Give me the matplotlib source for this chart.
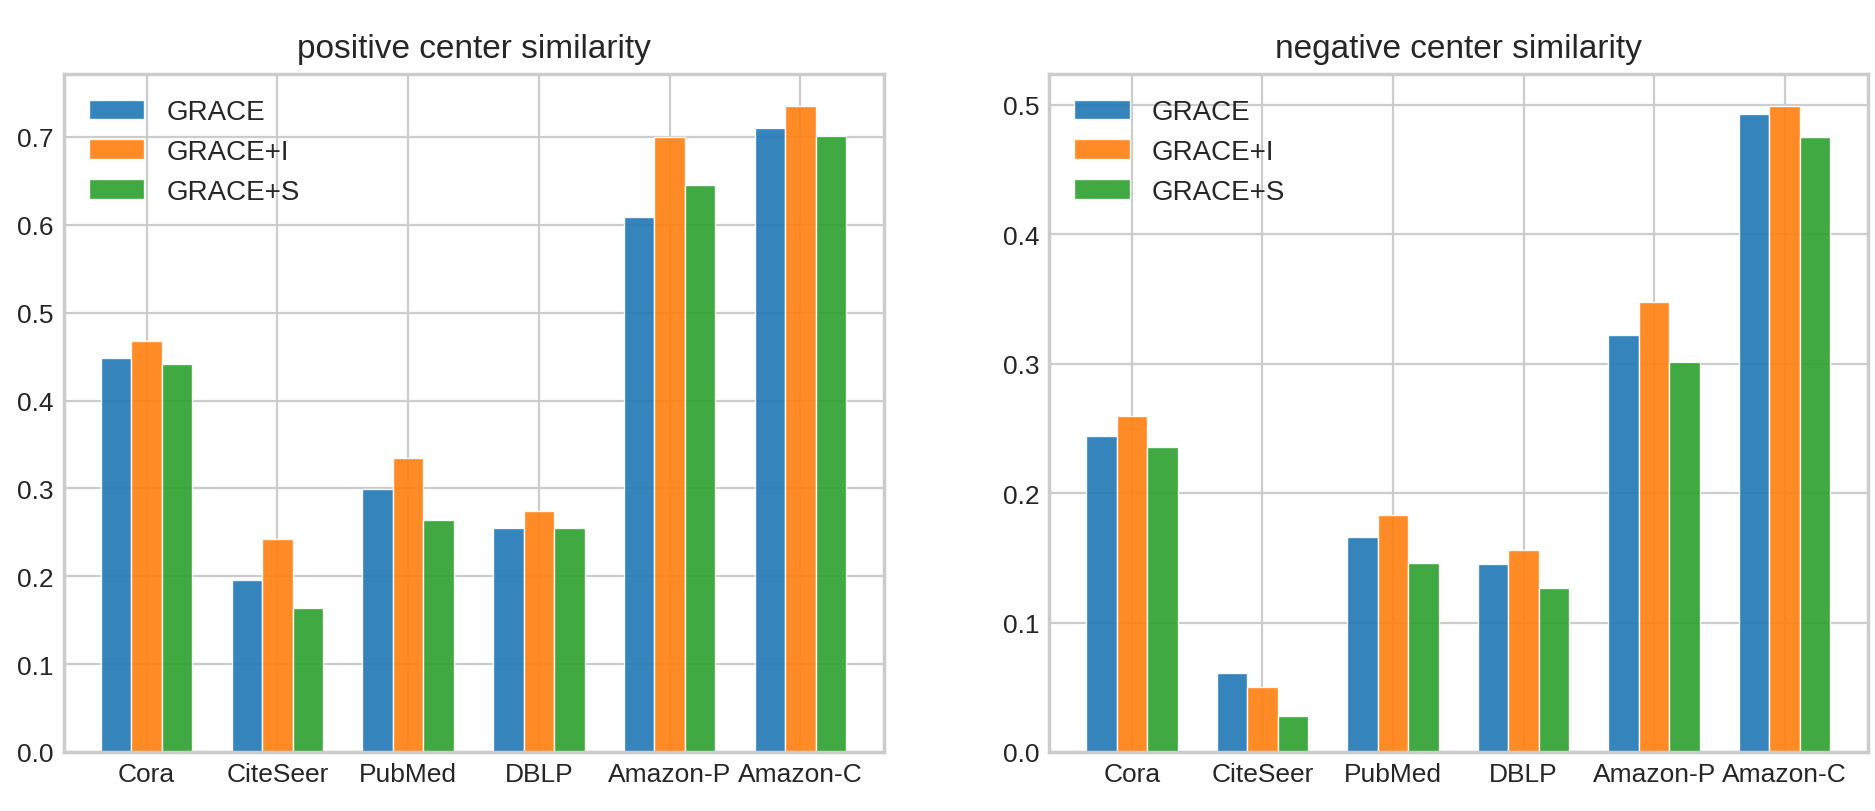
import numpy as np
import matplotlib.pyplot as plt

datasets = ["Cora", "CiteSeer", "PubMed", "DBLP", "Amazon-P", "Amazon-C"]
methods = ["GRACE", "GRACE+I", "GRACE+S"]

# positive center similarity
pos_grace = [0.448, 0.196, 0.299, 0.255, 0.609, 0.710]
pos_grace_i = [0.468, 0.242, 0.335, 0.274, 0.700, 0.735]
pos_grace_s = [0.442, 0.164, 0.264, 0.255, 0.645, 0.701]

# negative center similarity
neg_grace = [0.244, 0.061, 0.166, 0.145, 0.322, 0.493]
neg_grace_i = [0.260, 0.050, 0.183, 0.156, 0.348, 0.499]
neg_grace_s = [0.236, 0.028, 0.146, 0.127, 0.301, 0.475]

plt.style.use("seaborn-v0_8-whitegrid")
plt.rcParams["font.family"] = ["Liberation Sans", "DejaVu Sans"]
plt.rcParams["axes.edgecolor"] = "0.8"
plt.rcParams["axes.linewidth"] = 1.25

colors = ["tab:blue", "tab:orange", "tab:green"]
x = np.arange(len(datasets))
w = 0.7 / 3

fig = plt.figure(figsize=(9.375, 4.06), dpi=200)
ax1 = fig.add_axes([0.0339, 0.0727, 0.4373, 0.835])
ax2 = fig.add_axes([0.5595, 0.0727, 0.4365, 0.835])

panels = [
    (ax1, "positive center similarity", [pos_grace, pos_grace_i, pos_grace_s]),
    (ax2, "negative center similarity", [neg_grace, neg_grace_i, neg_grace_s]),
]

for ax, title, series in panels:
    for i, (vals, name) in enumerate(zip(series, methods)):
        ax.bar(x + (i - 1) * w, vals, w, color=colors[i], alpha=0.9,
               edgecolor="white", linewidth=0.5, label=name)
    ax.set_xticks(x)
    ax.set_xticklabels(datasets)
    ax.set_title(title, fontsize=12, color="0.15")
    ax.tick_params(labelsize=9.5, colors="0.15")
    ax.set_axisbelow(True)
    ax.legend(loc="upper left", fontsize=10, frameon=False)

fig.savefig("out.png", dpi=200)
